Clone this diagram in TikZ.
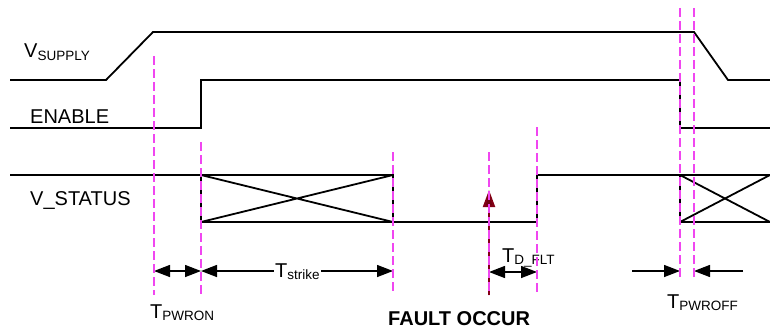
\documentclass[tikz,border=0pt]{standalone}
\usepackage{fontspec}
\setmainfont{Liberation Sans}
\usetikzlibrary{arrows.meta}
\definecolor{guide}{RGB}{240,70,240}
\definecolor{faultred}{RGB}{130,0,20}
\newcommand{\subtxt}[1]{\raisebox{-2pt}{\fontsize{13.5}{14}\selectfont #1}}
\tikzset{
  wave/.style={line width=1.8pt, line join=miter},
  guideline/.style={guide, line width=1.3pt, dash pattern=on 9pt off 4pt},
  lbl/.style={inner sep=0pt, anchor=base west, font=\fontsize{20}{24}\selectfont},
  dim/.style={line width=1.4pt, {Triangle[length=16pt,width=12pt]}-{Triangle[length=16pt,width=12pt]}},
  dimr/.style={line width=1.4pt, -{Triangle[length=16pt,width=12pt]}},
}
\begin{document}
\begin{tikzpicture}[x=1pt,y=-1pt]
\useasboundingbox (0,0) rectangle (770,329);
% VSUPPLY
\coordinate (s0) at (10,80);
\coordinate (s1) at (106,80);
\coordinate (s2) at (153,32);
\coordinate (s3) at (694,32);
\coordinate (s4) at (728,80);
\coordinate (s5) at (770,80);
\draw[wave] (s0) -- (s1) -- (s2) -- (s3) -- (s4) -- (s5);
% ENABLE
\coordinate (e0) at (10,128);
\coordinate (e1) at (201,128);
\coordinate (e2) at (201,80);
\coordinate (e3) at (680,80);
\coordinate (e4) at (680,128);
\coordinate (e5) at (770,128);
\draw[wave] (e0) -- (e1) -- (e2) -- (e3) -- (e4) -- (e5);
% V_STATUS
\coordinate (v0) at (10,175);
\coordinate (b1tl) at (201,175);
\coordinate (b1bl) at (201,222);
\coordinate (b1tr) at (393,175);
\coordinate (b1br) at (393,222);
\coordinate (v1) at (537,222);
\coordinate (v2) at (537,175);
\coordinate (b2tl) at (680,175);
\coordinate (b2bl) at (680,222);
\coordinate (b2tr) at (770,175);
\coordinate (b2br) at (770,222);
\draw[wave] (v0) -- (b1tl) -- (b1tr) -- (b1br) -- (v1) -- (v2) -- (b2tl) -- (b2tr);
\draw[wave] (b1tl) -- (b1bl) -- (b1br);
\draw[wave] (b1tl) -- (b1br) (b1bl) -- (b1tr);
\draw[wave] (b2tl) -- (b2bl) -- (b2br);
\draw[wave] (b2tl) -- (b2br) (b2bl) -- (b2tr);
% signal labels
\node[lbl] (lsup) at (24,58) {V\subtxt{SUPPLY}};
\node[lbl] (len) at (30,123) {ENABLE};
\node[lbl] (lst) at (30,205) {V\_STATUS};
% fault arrow
\coordinate (f0) at (489,295);
\coordinate (f1) at (489,190);
\draw[faultred, line width=2pt, -{Triangle[length=17pt,width=12pt,fill=faultred!85!black]}] (f0) -- (f1);
% dimension arrows
\coordinate (d0) at (154,271);
\coordinate (d1) at (201,271);
\coordinate (d2) at (393,271);
\coordinate (d3) at (489,272);
\coordinate (d4) at (537,272);
\coordinate (d5) at (632,271);
\coordinate (d6) at (680,271);
\coordinate (d7) at (743,271);
\coordinate (d8) at (694,271);
\draw[dim] (d0) -- (d1);
\draw[dim] (d1) -- (d2);
\draw[dim] (d3) -- (d4);
\draw[dimr] (d5) -- (d6);
\draw[dimr] (d7) -- (d8);
% timing labels
\node[lbl, fill=white, inner xsep=1.5pt] (tstrike) at (273.5,277) {T\subtxt{strike}};
\node[lbl] (tpwron) at (150,318) {T\subtxt{PWRON}};
\node[lbl] (tdflt) at (502,262) {T\subtxt{D\_FLT}};
\node[lbl] (tpwroff) at (667,308) {T\subtxt{PWROFF}};
\node[lbl, font=\fontsize{20}{24}\selectfont\bfseries] (fault) at (388,325) {FAULT OCCUR};
% guide lines
\coordinate (g1a) at (154,56);  \coordinate (g1b) at (154,295);
\coordinate (g2a) at (201,142); \coordinate (g2b) at (201,295);
\coordinate (g3a) at (393,152); \coordinate (g3b) at (393,292);
\coordinate (g4a) at (489,152); \coordinate (g4b) at (489,295);
\coordinate (g5a) at (537,127); \coordinate (g5b) at (537,295);
\coordinate (g6a) at (680,8);   \coordinate (g6b) at (680,280);
\coordinate (g7a) at (694,8);   \coordinate (g7b) at (694,280);
\foreach \g in {1,...,7} \draw[guideline] (g\g a) -- (g\g b);
\end{tikzpicture}
\end{document}
